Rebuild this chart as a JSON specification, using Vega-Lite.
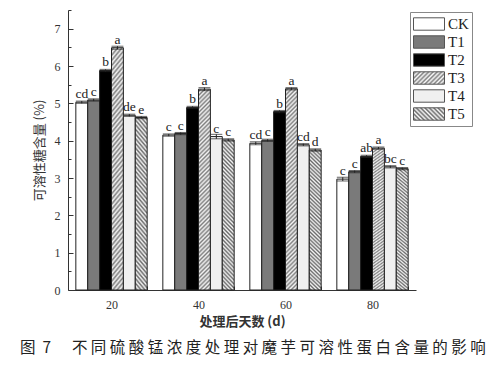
{
  "$schema": "https://vega.github.io/schema/vega-lite/v6.json",
  "width": 348,
  "height": 280,
  "autosize": "none",
  "padding": {"left": 68, "top": 10, "right": 81, "bottom": 77},
  "background": "white",
  "config": {"view": {"stroke": null}},
  "title": {
    "text": "图\u00a0\u00a07\u00a0\u00a0\u00a0\u00a0\u00a0\u00a0不 同 硫 酸 锰 浓 度 处 理 对 魔 芋 可 溶 性 蛋 白 含 量 的 影 响",
    "orient": "bottom",
    "anchor": "start",
    "frame": "group",
    "dx": -48,
    "offset": 13,
    "font": "Noto Sans CJK SC",
    "fontSize": 15.5,
    "fontWeight": "normal",
    "color": "#222"
  },
  "data": {
    "values": [
      {"Day": "20", "Treatment": "CK", "value": 5.03, "err": 0.03, "label": "cd"},
      {"Day": "20", "Treatment": "T1", "value": 5.09, "err": 0.03, "label": "c"},
      {"Day": "20", "Treatment": "T2", "value": 5.88, "err": 0.03, "label": "b"},
      {"Day": "20", "Treatment": "T3", "value": 6.49, "err": 0.04, "label": "a"},
      {"Day": "20", "Treatment": "T4", "value": 4.68, "err": 0.03, "label": "de"},
      {"Day": "20", "Treatment": "T5", "value": 4.62, "err": 0.03, "label": "e"},
      {"Day": "40", "Treatment": "CK", "value": 4.15, "err": 0.03, "label": "c"},
      {"Day": "40", "Treatment": "T1", "value": 4.19, "err": 0.03, "label": "c"},
      {"Day": "40", "Treatment": "T2", "value": 4.89, "err": 0.03, "label": "b"},
      {"Day": "40", "Treatment": "T3", "value": 5.38, "err": 0.04, "label": "a"},
      {"Day": "40", "Treatment": "T4", "value": 4.11, "err": 0.06, "label": "c"},
      {"Day": "40", "Treatment": "T5", "value": 4.02, "err": 0.03, "label": "c"},
      {"Day": "60", "Treatment": "CK", "value": 3.93, "err": 0.04, "label": "cd"},
      {"Day": "60", "Treatment": "T1", "value": 4.01, "err": 0.03, "label": "c"},
      {"Day": "60", "Treatment": "T2", "value": 4.78, "err": 0.03, "label": "b"},
      {"Day": "60", "Treatment": "T3", "value": 5.39, "err": 0.03, "label": "a"},
      {"Day": "60", "Treatment": "T4", "value": 3.89, "err": 0.03, "label": "cd"},
      {"Day": "60", "Treatment": "T5", "value": 3.75, "err": 0.03, "label": "d"},
      {"Day": "80", "Treatment": "CK", "value": 2.97, "err": 0.05, "label": "c"},
      {"Day": "80", "Treatment": "T1", "value": 3.17, "err": 0.03, "label": "c"},
      {"Day": "80", "Treatment": "T2", "value": 3.58, "err": 0.03, "label": "ab"},
      {"Day": "80", "Treatment": "T3", "value": 3.80, "err": 0.03, "label": "a"},
      {"Day": "80", "Treatment": "T4", "value": 3.30, "err": 0.03, "label": "bc"},
      {"Day": "80", "Treatment": "T5", "value": 3.25, "err": 0.03, "label": "c"}
    ]
  },
  "encoding": {
    "x": {
      "field": "Day",
      "type": "nominal",
      "sort": ["20", "40", "60", "80"],
      "scale": {"type": "band", "paddingInner": 0.18, "paddingOuter": 0.09},
      "axis": {
        "title": "处理后天数 (d)",
        "labelAngle": 0,
        "tickBand": "extent",
        "tickSize": -4,
        "labelPadding": 13,
        "labelFont": "Liberation Serif",
        "labelFontSize": 12,
        "labelColor": "#333",
        "titleFont": "Noto Sans CJK SC",
        "titleFontSize": 13,
        "titleFontWeight": "bold",
        "titleColor": "#333",
        "titlePadding": 5,
        "domainColor": "#333",
        "tickColor": "#333"
      }
    },
    "xOffset": {
      "field": "Treatment",
      "type": "nominal",
      "sort": ["CK", "T1", "T2", "T3", "T4", "T5"],
      "scale": {"paddingInner": 0, "paddingOuter": 0}
    }
  },
  "layer": [
    {
      "mark": {"type": "bar", "stroke": "#222", "strokeWidth": 1},
      "encoding": {
        "y": {
          "field": "value",
          "type": "quantitative",
          "scale": {"domain": [0, 7.5], "nice": false},
          "axis": {
            "values": [0, 1, 2, 3, 4, 5, 6, 7],
            "title": "可溶性糖含量 (%)",
            "grid": false,
            "tickSize": -5,
            "labelPadding": 13,
            "labelFont": "Liberation Serif",
            "labelFontSize": 12,
            "labelColor": "#333",
            "titleFont": "Noto Sans CJK SC",
            "titleFontSize": 13,
            "titleFontWeight": "normal",
            "titleColor": "#333",
            "titlePadding": 8,
            "domainColor": "#333",
            "tickColor": "#333"
          }
        },
        "fill": {
          "condition": [
            {"test": "datum.Treatment === 'T3'", "value": {"gradient": "linear", "x1": 0, "y1": 0, "x2": 0.063, "y2": 1.056, "stops": [
                {"offset": 0, "color": "#f4f4f4"}, {"offset": 0.01, "color": "#808080"}, {"offset": 0.02, "color": "#f4f4f4"}, {"offset": 0.03, "color": "#808080"}, {"offset": 0.04, "color": "#f4f4f4"}, {"offset": 0.05, "color": "#808080"}, {"offset": 0.06, "color": "#f4f4f4"}, {"offset": 0.07, "color": "#808080"}, {"offset": 0.08, "color": "#f4f4f4"}, {"offset": 0.09, "color": "#808080"},
                {"offset": 0.1, "color": "#f4f4f4"}, {"offset": 0.11, "color": "#808080"}, {"offset": 0.12, "color": "#f4f4f4"}, {"offset": 0.13, "color": "#808080"}, {"offset": 0.14, "color": "#f4f4f4"}, {"offset": 0.15, "color": "#808080"}, {"offset": 0.16, "color": "#f4f4f4"}, {"offset": 0.17, "color": "#808080"}, {"offset": 0.18, "color": "#f4f4f4"}, {"offset": 0.19, "color": "#808080"},
                {"offset": 0.2, "color": "#f4f4f4"}, {"offset": 0.21, "color": "#808080"}, {"offset": 0.22, "color": "#f4f4f4"}, {"offset": 0.23, "color": "#808080"}, {"offset": 0.24, "color": "#f4f4f4"}, {"offset": 0.25, "color": "#808080"}, {"offset": 0.26, "color": "#f4f4f4"}, {"offset": 0.27, "color": "#808080"}, {"offset": 0.28, "color": "#f4f4f4"}, {"offset": 0.29, "color": "#808080"},
                {"offset": 0.3, "color": "#f4f4f4"}, {"offset": 0.31, "color": "#808080"}, {"offset": 0.32, "color": "#f4f4f4"}, {"offset": 0.33, "color": "#808080"}, {"offset": 0.34, "color": "#f4f4f4"}, {"offset": 0.35, "color": "#808080"}, {"offset": 0.36, "color": "#f4f4f4"}, {"offset": 0.37, "color": "#808080"}, {"offset": 0.38, "color": "#f4f4f4"}, {"offset": 0.39, "color": "#808080"},
                {"offset": 0.4, "color": "#f4f4f4"}, {"offset": 0.41, "color": "#808080"}, {"offset": 0.42, "color": "#f4f4f4"}, {"offset": 0.43, "color": "#808080"}, {"offset": 0.44, "color": "#f4f4f4"}, {"offset": 0.45, "color": "#808080"}, {"offset": 0.46, "color": "#f4f4f4"}, {"offset": 0.47, "color": "#808080"}, {"offset": 0.48, "color": "#f4f4f4"}, {"offset": 0.49, "color": "#808080"},
                {"offset": 0.5, "color": "#f4f4f4"}, {"offset": 0.51, "color": "#808080"}, {"offset": 0.52, "color": "#f4f4f4"}, {"offset": 0.53, "color": "#808080"}, {"offset": 0.54, "color": "#f4f4f4"}, {"offset": 0.55, "color": "#808080"}, {"offset": 0.56, "color": "#f4f4f4"}, {"offset": 0.57, "color": "#808080"}, {"offset": 0.58, "color": "#f4f4f4"}, {"offset": 0.59, "color": "#808080"},
                {"offset": 0.6, "color": "#f4f4f4"}, {"offset": 0.61, "color": "#808080"}, {"offset": 0.62, "color": "#f4f4f4"}, {"offset": 0.63, "color": "#808080"}, {"offset": 0.64, "color": "#f4f4f4"}, {"offset": 0.65, "color": "#808080"}, {"offset": 0.66, "color": "#f4f4f4"}, {"offset": 0.67, "color": "#808080"}, {"offset": 0.68, "color": "#f4f4f4"}, {"offset": 0.69, "color": "#808080"},
                {"offset": 0.7, "color": "#f4f4f4"}, {"offset": 0.71, "color": "#808080"}, {"offset": 0.72, "color": "#f4f4f4"}, {"offset": 0.73, "color": "#808080"}, {"offset": 0.74, "color": "#f4f4f4"}, {"offset": 0.75, "color": "#808080"}, {"offset": 0.76, "color": "#f4f4f4"}, {"offset": 0.77, "color": "#808080"}, {"offset": 0.78, "color": "#f4f4f4"}, {"offset": 0.79, "color": "#808080"},
                {"offset": 0.8, "color": "#f4f4f4"}, {"offset": 0.81, "color": "#808080"}, {"offset": 0.82, "color": "#f4f4f4"}, {"offset": 0.83, "color": "#808080"}, {"offset": 0.84, "color": "#f4f4f4"}, {"offset": 0.85, "color": "#808080"}, {"offset": 0.86, "color": "#f4f4f4"}, {"offset": 0.87, "color": "#808080"}, {"offset": 0.88, "color": "#f4f4f4"}, {"offset": 0.89, "color": "#808080"},
                {"offset": 0.9, "color": "#f4f4f4"}, {"offset": 0.91, "color": "#808080"}, {"offset": 0.92, "color": "#f4f4f4"}, {"offset": 0.93, "color": "#808080"}, {"offset": 0.94, "color": "#f4f4f4"}, {"offset": 0.95, "color": "#808080"}, {"offset": 0.96, "color": "#f4f4f4"}, {"offset": 0.97, "color": "#808080"}, {"offset": 0.98, "color": "#f4f4f4"}, {"offset": 0.99, "color": "#808080"},
                {"offset": 1, "color": "#f4f4f4"}
              ]}},
            {"test": "datum.Treatment === 'T5'", "value": {"gradient": "linear", "x1": 1, "y1": 0, "x2": 0.912, "y2": 1.075, "stops": [
                {"offset": 0, "color": "#f4f4f4"}, {"offset": 0.0125, "color": "#6a6a6a"}, {"offset": 0.025, "color": "#f4f4f4"}, {"offset": 0.0375, "color": "#6a6a6a"}, {"offset": 0.05, "color": "#f4f4f4"}, {"offset": 0.0625, "color": "#6a6a6a"}, {"offset": 0.075, "color": "#f4f4f4"}, {"offset": 0.0875, "color": "#6a6a6a"},
                {"offset": 0.1, "color": "#f4f4f4"}, {"offset": 0.1125, "color": "#6a6a6a"}, {"offset": 0.125, "color": "#f4f4f4"}, {"offset": 0.1375, "color": "#6a6a6a"}, {"offset": 0.15, "color": "#f4f4f4"}, {"offset": 0.1625, "color": "#6a6a6a"}, {"offset": 0.175, "color": "#f4f4f4"}, {"offset": 0.1875, "color": "#6a6a6a"},
                {"offset": 0.2, "color": "#f4f4f4"}, {"offset": 0.2125, "color": "#6a6a6a"}, {"offset": 0.225, "color": "#f4f4f4"}, {"offset": 0.2375, "color": "#6a6a6a"}, {"offset": 0.25, "color": "#f4f4f4"}, {"offset": 0.2625, "color": "#6a6a6a"}, {"offset": 0.275, "color": "#f4f4f4"}, {"offset": 0.2875, "color": "#6a6a6a"},
                {"offset": 0.3, "color": "#f4f4f4"}, {"offset": 0.3125, "color": "#6a6a6a"}, {"offset": 0.325, "color": "#f4f4f4"}, {"offset": 0.3375, "color": "#6a6a6a"}, {"offset": 0.35, "color": "#f4f4f4"}, {"offset": 0.3625, "color": "#6a6a6a"}, {"offset": 0.375, "color": "#f4f4f4"}, {"offset": 0.3875, "color": "#6a6a6a"},
                {"offset": 0.4, "color": "#f4f4f4"}, {"offset": 0.4125, "color": "#6a6a6a"}, {"offset": 0.425, "color": "#f4f4f4"}, {"offset": 0.4375, "color": "#6a6a6a"}, {"offset": 0.45, "color": "#f4f4f4"}, {"offset": 0.4625, "color": "#6a6a6a"}, {"offset": 0.475, "color": "#f4f4f4"}, {"offset": 0.4875, "color": "#6a6a6a"},
                {"offset": 0.5, "color": "#f4f4f4"}, {"offset": 0.5125, "color": "#6a6a6a"}, {"offset": 0.525, "color": "#f4f4f4"}, {"offset": 0.5375, "color": "#6a6a6a"}, {"offset": 0.55, "color": "#f4f4f4"}, {"offset": 0.5625, "color": "#6a6a6a"}, {"offset": 0.575, "color": "#f4f4f4"}, {"offset": 0.5875, "color": "#6a6a6a"},
                {"offset": 0.6, "color": "#f4f4f4"}, {"offset": 0.6125, "color": "#6a6a6a"}, {"offset": 0.625, "color": "#f4f4f4"}, {"offset": 0.6375, "color": "#6a6a6a"}, {"offset": 0.65, "color": "#f4f4f4"}, {"offset": 0.6625, "color": "#6a6a6a"}, {"offset": 0.675, "color": "#f4f4f4"}, {"offset": 0.6875, "color": "#6a6a6a"},
                {"offset": 0.7, "color": "#f4f4f4"}, {"offset": 0.7125, "color": "#6a6a6a"}, {"offset": 0.725, "color": "#f4f4f4"}, {"offset": 0.7375, "color": "#6a6a6a"}, {"offset": 0.75, "color": "#f4f4f4"}, {"offset": 0.7625, "color": "#6a6a6a"}, {"offset": 0.775, "color": "#f4f4f4"}, {"offset": 0.7875, "color": "#6a6a6a"},
                {"offset": 0.8, "color": "#f4f4f4"}, {"offset": 0.8125, "color": "#6a6a6a"}, {"offset": 0.825, "color": "#f4f4f4"}, {"offset": 0.8375, "color": "#6a6a6a"}, {"offset": 0.85, "color": "#f4f4f4"}, {"offset": 0.8625, "color": "#6a6a6a"}, {"offset": 0.875, "color": "#f4f4f4"}, {"offset": 0.8875, "color": "#6a6a6a"},
                {"offset": 0.9, "color": "#f4f4f4"}, {"offset": 0.9125, "color": "#6a6a6a"}, {"offset": 0.925, "color": "#f4f4f4"}, {"offset": 0.9375, "color": "#6a6a6a"}, {"offset": 0.95, "color": "#f4f4f4"}, {"offset": 0.9625, "color": "#6a6a6a"}, {"offset": 0.975, "color": "#f4f4f4"}, {"offset": 0.9875, "color": "#6a6a6a"},
                {"offset": 1, "color": "#f4f4f4"}
              ]}}
          ],
          "field": "Treatment",
          "type": "nominal",
          "scale": {
            "domain": ["CK", "T1", "T2", "T3", "T4", "T5"],
            "range": [
              "#ffffff",
              "#7a7a7a",
              "#000000",
              {"expr": "{gradient: 'linear', x1: 0, y1: 0, x2: 1.207, y2: 0.483, stops: [{offset: 0, color: '#f8f8f8'}, {offset: 0.05, color: '#808080'}, {offset: 0.1, color: '#f8f8f8'}, {offset: 0.15, color: '#808080'}, {offset: 0.2, color: '#f8f8f8'}, {offset: 0.25, color: '#808080'}, {offset: 0.3, color: '#f8f8f8'}, {offset: 0.35, color: '#808080'}, {offset: 0.4, color: '#f8f8f8'}, {offset: 0.45, color: '#808080'}, {offset: 0.5, color: '#f8f8f8'}, {offset: 0.55, color: '#808080'}, {offset: 0.6, color: '#f8f8f8'}, {offset: 0.65, color: '#808080'}, {offset: 0.7, color: '#f8f8f8'}, {offset: 0.75, color: '#808080'}, {offset: 0.8, color: '#f8f8f8'}, {offset: 0.85, color: '#808080'}, {offset: 0.9, color: '#f8f8f8'}, {offset: 0.95, color: '#808080'}, {offset: 1, color: '#f8f8f8'}]}"},
              "#f0f0f0",
              {"expr": "{gradient: 'linear', x1: 1, y1: 0, x2: -0.207, y2: 0.483, stops: [{offset: 0, color: '#f8f8f8'}, {offset: 0.05, color: '#6a6a6a'}, {offset: 0.1, color: '#f8f8f8'}, {offset: 0.15, color: '#6a6a6a'}, {offset: 0.2, color: '#f8f8f8'}, {offset: 0.25, color: '#6a6a6a'}, {offset: 0.3, color: '#f8f8f8'}, {offset: 0.35, color: '#6a6a6a'}, {offset: 0.4, color: '#f8f8f8'}, {offset: 0.45, color: '#6a6a6a'}, {offset: 0.5, color: '#f8f8f8'}, {offset: 0.55, color: '#6a6a6a'}, {offset: 0.6, color: '#f8f8f8'}, {offset: 0.65, color: '#6a6a6a'}, {offset: 0.7, color: '#f8f8f8'}, {offset: 0.75, color: '#6a6a6a'}, {offset: 0.8, color: '#f8f8f8'}, {offset: 0.85, color: '#6a6a6a'}, {offset: 0.9, color: '#f8f8f8'}, {offset: 0.95, color: '#6a6a6a'}, {offset: 1, color: '#f8f8f8'}]}"}
            ]
          },
          "legend": {
            "orient": "none",
            "legendX": 342,
            "legendY": 2,
            "title": null,
            "symbolType": "M-1,-0.4H1V0.4H-1Z",
            "symbolSize": 961,
            "symbolStrokeColor": "#555",
            "symbolStrokeWidth": 1,
            "symbolOpacity": 1,
            "labelFont": "Liberation Serif",
            "labelFontSize": 15,
            "labelColor": "#222",
            "labelOffset": 3,
            "strokeColor": "#888",
            "fillColor": "white",
            "padding": 3,
            "rowPadding": 0,
            "clipHeight": 18
          }
        }
      }
    },
    {
      "mark": {"type": "errorbar", "ticks": true, "color": "#222"},
      "encoding": {
        "y": {"field": "value", "type": "quantitative", "axis": null},
        "yError": {"field": "err"}
      }
    },
    {
      "mark": {"type": "text", "baseline": "bottom", "dy": -1, "font": "Liberation Serif", "fontSize": 13.5, "color": "#222"},
      "encoding": {
        "y": {
          "field": "value",
          "type": "quantitative",
          "axis": {
            "values": [0.5, 1.5, 2.5, 3.5, 4.5, 5.5, 6.5, 7.5],
            "orient": "left",
            "title": null,
            "labels": false,
            "domain": false,
            "grid": false,
            "tickSize": -3,
            "tickColor": "#333"
          }
        },
        "text": {"field": "label"}
      }
    }
  ],
  "resolve": {"axis": {"y": "independent"}}
}
